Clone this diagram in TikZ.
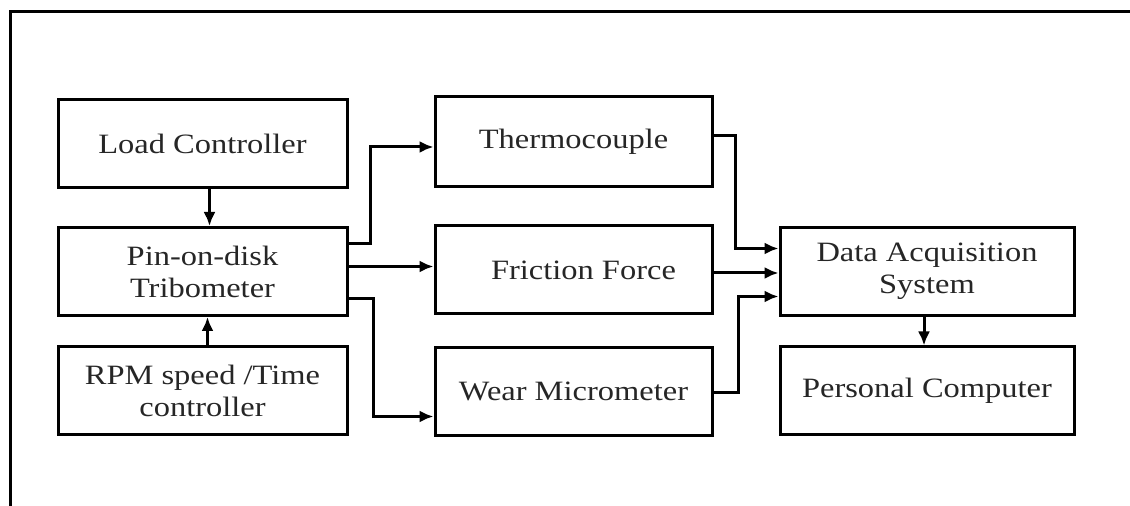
\documentclass[tikz,border=0pt]{standalone}
\usepackage{fontspec}
\setmainfont{Liberation Serif}[FakeStretch=1.16]
\usepackage{tikz}
\usetikzlibrary{calc,arrows.meta}

\begin{document}
\begin{tikzpicture}[x=0.5pt,y=-0.5pt,
    blk/.style={draw, line width=1.5pt, align=center, inner sep=0pt,
      minimum height=44pt, text=black!85,
      font=\fontsize{14}{16}\selectfont},
    arr/.style={line width=1.5pt, -{Latex[length=7pt,width=6pt]}}]
  \useasboundingbox (0,0) rectangle (1130,506);
  \draw[line width=1.5pt] (10,506) -- (10,12) -- (1130,12);
  % left column
  \node[blk, minimum width=144.5pt] (load) at (202.5,144) {Load Controller};
  \node[blk, minimum width=144.5pt] (trib) at (202.5,271.5) {Pin-on-disk\\Tribometer};
  \node[blk, minimum width=144.5pt] (rpm) at (202.5,391) {RPM speed /Time\\controller};
  % sensors
  \node[blk, minimum width=138.5pt, minimum height=45pt] (thermo) at (573.5,142) {Thermocouple};
  \node[blk, minimum width=138.5pt] (fric) at (573.5,270) {\hspace*{10pt}Friction Force};
  \node[blk, minimum width=138.5pt] (wear) at (573.5,391.5) {Wear Micrometer};
  % right column
  \node[blk, minimum width=147pt] (daq) at (927,271.5) {Data Acquisition\\System};
  \node[blk, minimum width=147pt] (pc) at (927,391) {Personal Computer};

  \draw[arr] ($(load.south)+(7,0)$) -- ($(trib.north)+(7,0)$);
  \draw[arr] ($(rpm.north)+(5,0)$) -- ($(trib.south)+(5,0)$);
  \draw[arr] ($(trib.east)+(0,-28)$) -- ++(22,0) |- ($(thermo.west)+(0,5)$);
  \draw[arr] ($(trib.east)+(0,-5)$) coordinate (f1) -- (f1 -| fric.west);
  \draw[arr] ($(trib.east)+(0,27)$) -- ++(25,0) |- ($(wear.west)+(0,25)$);
  \draw[arr] ($(thermo.east)+(0,-6)$) -- ++(22,0) |- ($(daq.west)+(0,-23)$);
  \draw[arr] ($(fric.east)+(0,3)$) coordinate (f2) -- (f2 -| daq.west);
  \draw[arr] ($(wear.east)+(0,1)$) -- ++(25,0) |- ($(daq.west)+(0,25)$);
  \draw[arr] ($(daq.south)+(-3,0)$) -- ($(pc.north)+(-3,0)$);
\end{tikzpicture}
\end{document}
